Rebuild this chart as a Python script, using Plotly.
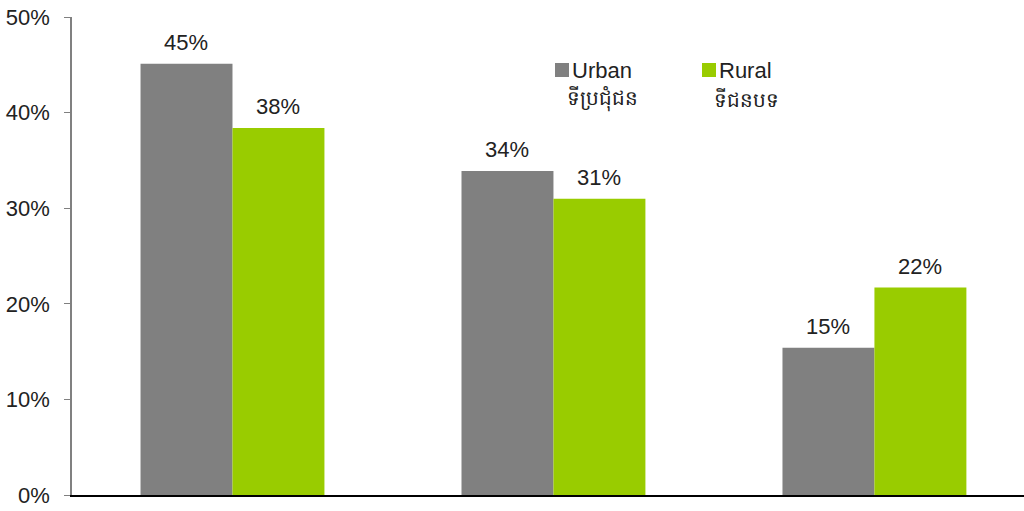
import plotly.graph_objects as go

categories = ["Group 1", "Group 2", "Group 3"]
urban = [45.1, 33.9, 15.4]
rural = [38.4, 31.0, 21.7]
urban_labels = ["45%", "34%", "15%"]
rural_labels = ["38%", "31%", "22%"]
y_ticks = [0, 10, 20, 30, 40, 50]
y_tick_text = ["0%", "10%", "20%", "30%", "40%", "50%"]

GRAY = "#808080"
GREEN = "#99CC00"
FONT = "Liberation Sans, Arial, Helvetica, sans-serif"
TEXT = "#222222"

fig = go.Figure()
fig.add_trace(go.Bar(x=categories, y=urban, name="Urban", marker_color=GRAY, marker_line_width=0))
fig.add_trace(go.Bar(x=categories, y=rural, name="Rural", marker_color=GREEN, marker_line_width=0))

annotations = []
for i, c in enumerate(categories):
    annotations.append(dict(x=c, y=urban[i], xref="x", yref="y", text=urban_labels[i],
                            showarrow=False, xshift=-46, yshift=7, yanchor="bottom",
                            font=dict(family=FONT, size=22, color=TEXT)))
    annotations.append(dict(x=c, y=rural[i], xref="x", yref="y", text=rural_labels[i],
                            showarrow=False, xshift=46, yshift=7, yanchor="bottom",
                            font=dict(family=FONT, size=22, color=TEXT)))

W0, W1, H0, H1 = 72, 1024, 17, 495
def px(x):
    return (x - W0) / (W1 - W0)
def py(y):
    return (H1 - y) / (H1 - H0)

legend_items = [
    (555, "Urban", "ទីប្រជុំជន", GRAY),
    (702, "Rural", "ទីជនបទ", GREEN),
]
shapes = []
for x0, name, khmer, col in legend_items:
    shapes.append(dict(type="rect", xref="paper", yref="paper",
                       x0=px(x0), x1=px(x0 + 14), y0=py(77), y1=py(63),
                       fillcolor=col, line_width=0))
    annotations.append(dict(x=px(x0 + 15), y=py(70), xref="paper", yref="paper",
                            text=name, showarrow=False, xanchor="left", yanchor="middle",
                            font=dict(family=FONT, size=22, color=TEXT)))
    annotations.append(dict(x=px(x0 + 10), y=py(99), xref="paper", yref="paper",
                            text=khmer, showarrow=False, xanchor="left", yanchor="middle",
                            font=dict(family=FONT, size=20, color=TEXT)))

fig.update_layout(
    width=1024, height=511,
    margin=dict(l=72, r=0, t=17, b=16),
    paper_bgcolor="white", plot_bgcolor="white",
    barmode="group", bargap=0.427, bargroupgap=0,
    showlegend=False,
    annotations=annotations,
    shapes=shapes,
    font=dict(family=FONT, size=22, color=TEXT),
    xaxis=dict(range=[-0.5, 2.466], showticklabels=False, ticks="",
               showline=True, linecolor="black", linewidth=1.5, showgrid=False,
               zeroline=False),
    yaxis=dict(range=[0, 50], tickmode="array", tickvals=y_ticks, ticktext=y_tick_text,
               showgrid=False,
               zeroline=False, showline=True, linecolor=GRAY, linewidth=1.5,
               ticks="outside", ticklen=6, tickcolor=GRAY, tickwidth=1,
               tickfont=dict(family=FONT, size=22, color=TEXT),
               ticklabelstandoff=10),
)

fig.write_html("out.html", config={"displayModeBar": False},
               post_script="document.body.style.margin='0';document.body.style.overflow='hidden';")
